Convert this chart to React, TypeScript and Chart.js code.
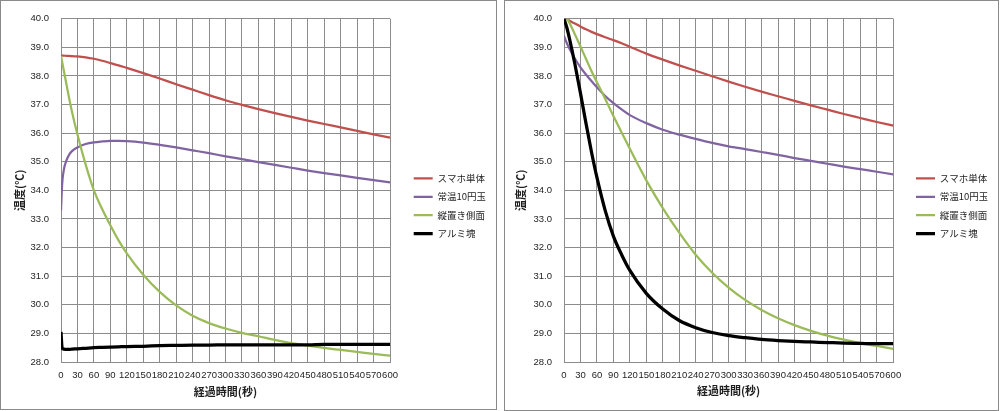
import React, { useEffect, useRef } from 'react';
import { Chart, registerables } from 'chart.js';

Chart.register(...registerables);

// ---- data ----
const SERIES_NAMES = ['スマホ単体', '常温10円玉', '縦置き側面', 'アルミ塊'];
const SERIES_COLORS = ['#C0504D', '#8064A2', '#9BBB59', '#000000'];
const SERIES_WIDTHS = [2.25, 2.25, 2.25, 3.25];
const X_TITLE = '経過時間(秒)';
const Y_TITLE = '温度(℃)';
const X_MIN = 0;
const X_MAX = 600;
const X_STEP = 30;
const Y_MIN = 28;
const Y_MAX = 40;
const Y_STEP = 0.5;

// left chart (seconds)
const TIME_L = [0, 2, 5, 10, 15, 20, 30, 45, 60, 75, 90, 105, 120, 150, 180, 210, 240, 270, 300, 330, 360, 390, 420, 450, 480, 510, 540, 570, 600];
const L_PHONE = [38.71, 38.71, 38.71, 38.70, 38.70, 38.69, 38.68, 38.65, 38.60, 38.53, 38.45, 38.37, 38.28, 38.10, 37.91, 37.71, 37.52, 37.33, 37.15, 36.99, 36.84, 36.70, 36.57, 36.44, 36.32, 36.20, 36.08, 35.96, 35.84];
const L_COIN = [33.30, 34.20, 34.70, 35.05, 35.25, 35.37, 35.50, 35.62, 35.68, 35.71, 35.73, 35.73, 35.72, 35.67, 35.59, 35.50, 35.40, 35.30, 35.19, 35.09, 34.99, 34.89, 34.79, 34.69, 34.60, 34.52, 34.44, 34.36, 34.28];
const L_SIDE = [38.70, 38.50, 38.20, 37.70, 37.20, 36.75, 35.95, 34.90, 34.00, 33.35, 32.78, 32.25, 31.80, 31.05, 30.45, 29.98, 29.62, 29.36, 29.17, 29.02, 28.90, 28.77, 28.66, 28.57, 28.49, 28.42, 28.35, 28.28, 28.22];
const L_ALU = [29.05, 28.50, 28.45, 28.44, 28.44, 28.45, 28.46, 28.48, 28.50, 28.51, 28.52, 28.53, 28.54, 28.55, 28.57, 28.58, 28.59, 28.59, 28.60, 28.60, 28.60, 28.60, 28.60, 28.60, 28.62, 28.62, 28.62, 28.62, 28.62];

// right chart (seconds)
const TIME_R = [0, 5, 10, 20, 30, 40, 50, 60, 75, 90, 105, 120, 150, 180, 210, 240, 270, 300, 330, 360, 390, 420, 450, 480, 510, 540, 570, 600];
const R_PHONE = [40.08, 40.00, 39.93, 39.83, 39.73, 39.63, 39.54, 39.46, 39.35, 39.25, 39.14, 39.02, 38.78, 38.57, 38.37, 38.18, 37.99, 37.80, 37.62, 37.45, 37.29, 37.13, 36.97, 36.82, 36.67, 36.53, 36.39, 36.26];
const R_COIN = [39.40, 39.15, 38.95, 38.60, 38.30, 38.05, 37.82, 37.60, 37.30, 37.05, 36.83, 36.63, 36.35, 36.12, 35.95, 35.80, 35.66, 35.54, 35.44, 35.34, 35.24, 35.13, 35.03, 34.93, 34.83, 34.74, 34.65, 34.56];
const R_SIDE = [40.20, 40.02, 39.85, 39.45, 39.03, 38.60, 38.17, 37.78, 37.20, 36.60, 36.02, 35.45, 34.35, 33.38, 32.52, 31.75, 31.12, 30.60, 30.17, 29.82, 29.53, 29.29, 29.09, 28.92, 28.78, 28.66, 28.56, 28.46];
const R_ALU = [40.00, 39.70, 39.30, 38.40, 37.40, 36.35, 35.35, 34.45, 33.30, 32.40, 31.75, 31.20, 30.40, 29.85, 29.45, 29.20, 29.03, 28.92, 28.85, 28.79, 28.75, 28.72, 28.70, 28.68, 28.66, 28.65, 28.64, 28.64];

// ---- styling / geometry ----
const GRID = '#8c8c8c';
const TEXT = '#1e1e1e';
const NUM_FONT = '"Liberation Sans", Arial, sans-serif';
const CJK_FONT = '"Noto Sans CJK JP", "Noto Sans", sans-serif';
const LEGEND_FONT_SIZE = 9.5;
const LEGEND_PAD = 8.87;
const LEGEND_LINE = 19;
const CANVAS_EXTRA = 40; // canvas extends past the panel (clipped) so legend never squeezes

type Geom = {
  left: number; w: number; h: number; padT: number; titleH: number; plotRight: number;
  gapW: number; yAxisW: number; xAxisH: number; yTitlePad: number; xTitlePad: number;
};

const LEFT_GEOM: Geom = { left: 0, w: 497, h: 410, padT: 2, titleH: 9.3, plotRight: 387.3, gapW: 14.8, yAxisW: 60, xAxisH: 47, yTitlePad: 12.4, xTitlePad: 10.7 };
const RIGHT_GEOM: Geom = { left: 504, w: 495, h: 411, padT: 1, titleH: 10.3, plotRight: 386.5, gapW: 13.9, yAxisW: 59, xAxisH: 48, yTitlePad: 9.4, xTitlePad: 12.4 };

function ChartPanel({ times, series, g }: { times: number[]; series: number[][]; g: Geom }) {
  const ref = useRef<HTMLCanvasElement>(null);
  const cw = g.w - 2 + CANVAS_EXTRA;
  const ch = g.h - 2;
  useEffect(() => {
    const padR0 = 40;
    const datasets = series.map((vals, i) => ({
      label: SERIES_NAMES[i],
      data: times.map((t, k) => ({ x: t, y: vals[k] })),
      borderColor: SERIES_COLORS[i],
      backgroundColor: SERIES_COLORS[i],
      borderWidth: SERIES_WIDTHS[i],
      pointRadius: 0,
      pointHitRadius: 0,
      pointStyle: 'line' as const,
      fill: false,
      cubicInterpolationMode: 'monotone' as const,
      order: series.length - i,
      xAxisID: 'x',
      yAxisID: 'y',
    }));
    const chart = new Chart(ref.current as HTMLCanvasElement, {
      type: 'line',
      data: { datasets },
      options: {
        responsive: false,
        animation: false,
        devicePixelRatio: 1,
        events: [],
        layout: { padding: { left: 0, top: g.padT, right: padR0, bottom: 0 } },
        plugins: {
          tooltip: { enabled: false },
          title: {
            display: true,
            text: '',
            fullSize: false,
            padding: 0,
            font: { size: 10, lineHeight: g.titleH / 10 },
          },
          legend: {
            position: 'right',
            align: 'center',
            labels: {
              usePointStyle: true,
              pointStyleWidth: LEGEND_LINE,
              padding: LEGEND_PAD,
              color: TEXT,
              font: { family: CJK_FONT, size: LEGEND_FONT_SIZE },
              sort: (a: any, b: any) => a.datasetIndex - b.datasetIndex,
            },
          },
        },
        scales: {
          x: {
            type: 'linear',
            position: 'bottom',
            min: X_MIN,
            max: X_MAX,
            afterFit: (s: any) => { s.height = g.xAxisH; },
            ticks: {
              stepSize: X_STEP,
              autoSkip: false,
              maxRotation: 0,
              minRotation: 0,
              padding: 8,
              color: TEXT,
              font: { family: NUM_FONT, size: 9.5 },
              callback: (v: any) => String(v),
            },
            grid: { color: GRID, lineWidth: 1, drawTicks: false },
            border: { color: GRID, width: 1 },
            title: {
              display: true,
              text: X_TITLE,
              color: TEXT,
              font: { family: CJK_FONT, size: 11, weight: 'bold' },
              padding: { top: 0, bottom: g.xTitlePad },
            },
          },
          y: {
            type: 'linear',
            position: 'left',
            min: Y_MIN,
            max: Y_MAX,
            afterFit: (s: any) => { s.width = g.yAxisW; },
            ticks: {
              stepSize: Y_STEP,
              maxTicksLimit: 100,
              padding: 12,
              color: TEXT,
              font: { family: NUM_FONT, size: 9.5 },
              callback: (v: any) => Number(v).toFixed(1),
            },
            grid: { color: GRID, lineWidth: 1, drawTicks: false },
            border: { color: GRID, width: 1 },
            title: {
              display: true,
              text: Y_TITLE,
              color: TEXT,
              font: { family: CJK_FONT, size: 11, weight: 'bold' },
              padding: { top: g.yTitlePad, bottom: 0 },
            },
          },
          gap: {
            type: 'linear',
            position: 'right',
            display: true,
            afterFit: (s: any) => { s.width = g.gapW; },
            ticks: { display: false },
            grid: { display: false, drawTicks: false },
            border: { display: false },
          },
        },
      } as any,
    });
    // align the plot's right edge to the wanted position
    const diff = chart.chartArea.right - g.plotRight;
    if (Math.abs(diff) > 0.05) {
      (chart.options as any).layout.padding = { left: 0, top: g.padT, right: Math.max(0, padR0 + diff), bottom: 0 };
      chart.update();
    }
    return () => chart.destroy();
  }, []);
  return (
    <div
      style={{
        position: 'absolute',
        left: g.left,
        top: 0,
        width: g.w,
        height: g.h,
        border: '1px solid #8a8a8a',
        boxSizing: 'border-box',
        background: '#fff',
        overflow: 'hidden',
      }}
    >
      <canvas ref={ref} width={cw} height={ch} style={{ display: 'block', width: cw, height: ch }} />
    </div>
  );
}

export default function App() {
  return (
    <div style={{ position: 'fixed', left: 0, top: 0, width: 1000, height: 411, background: '#fff', overflow: 'hidden' }}>
      <ChartPanel times={TIME_L} series={[L_PHONE, L_COIN, L_SIDE, L_ALU]} g={LEFT_GEOM} />
      <ChartPanel times={TIME_R} series={[R_PHONE, R_COIN, R_SIDE, R_ALU]} g={RIGHT_GEOM} />
    </div>
  );
}
